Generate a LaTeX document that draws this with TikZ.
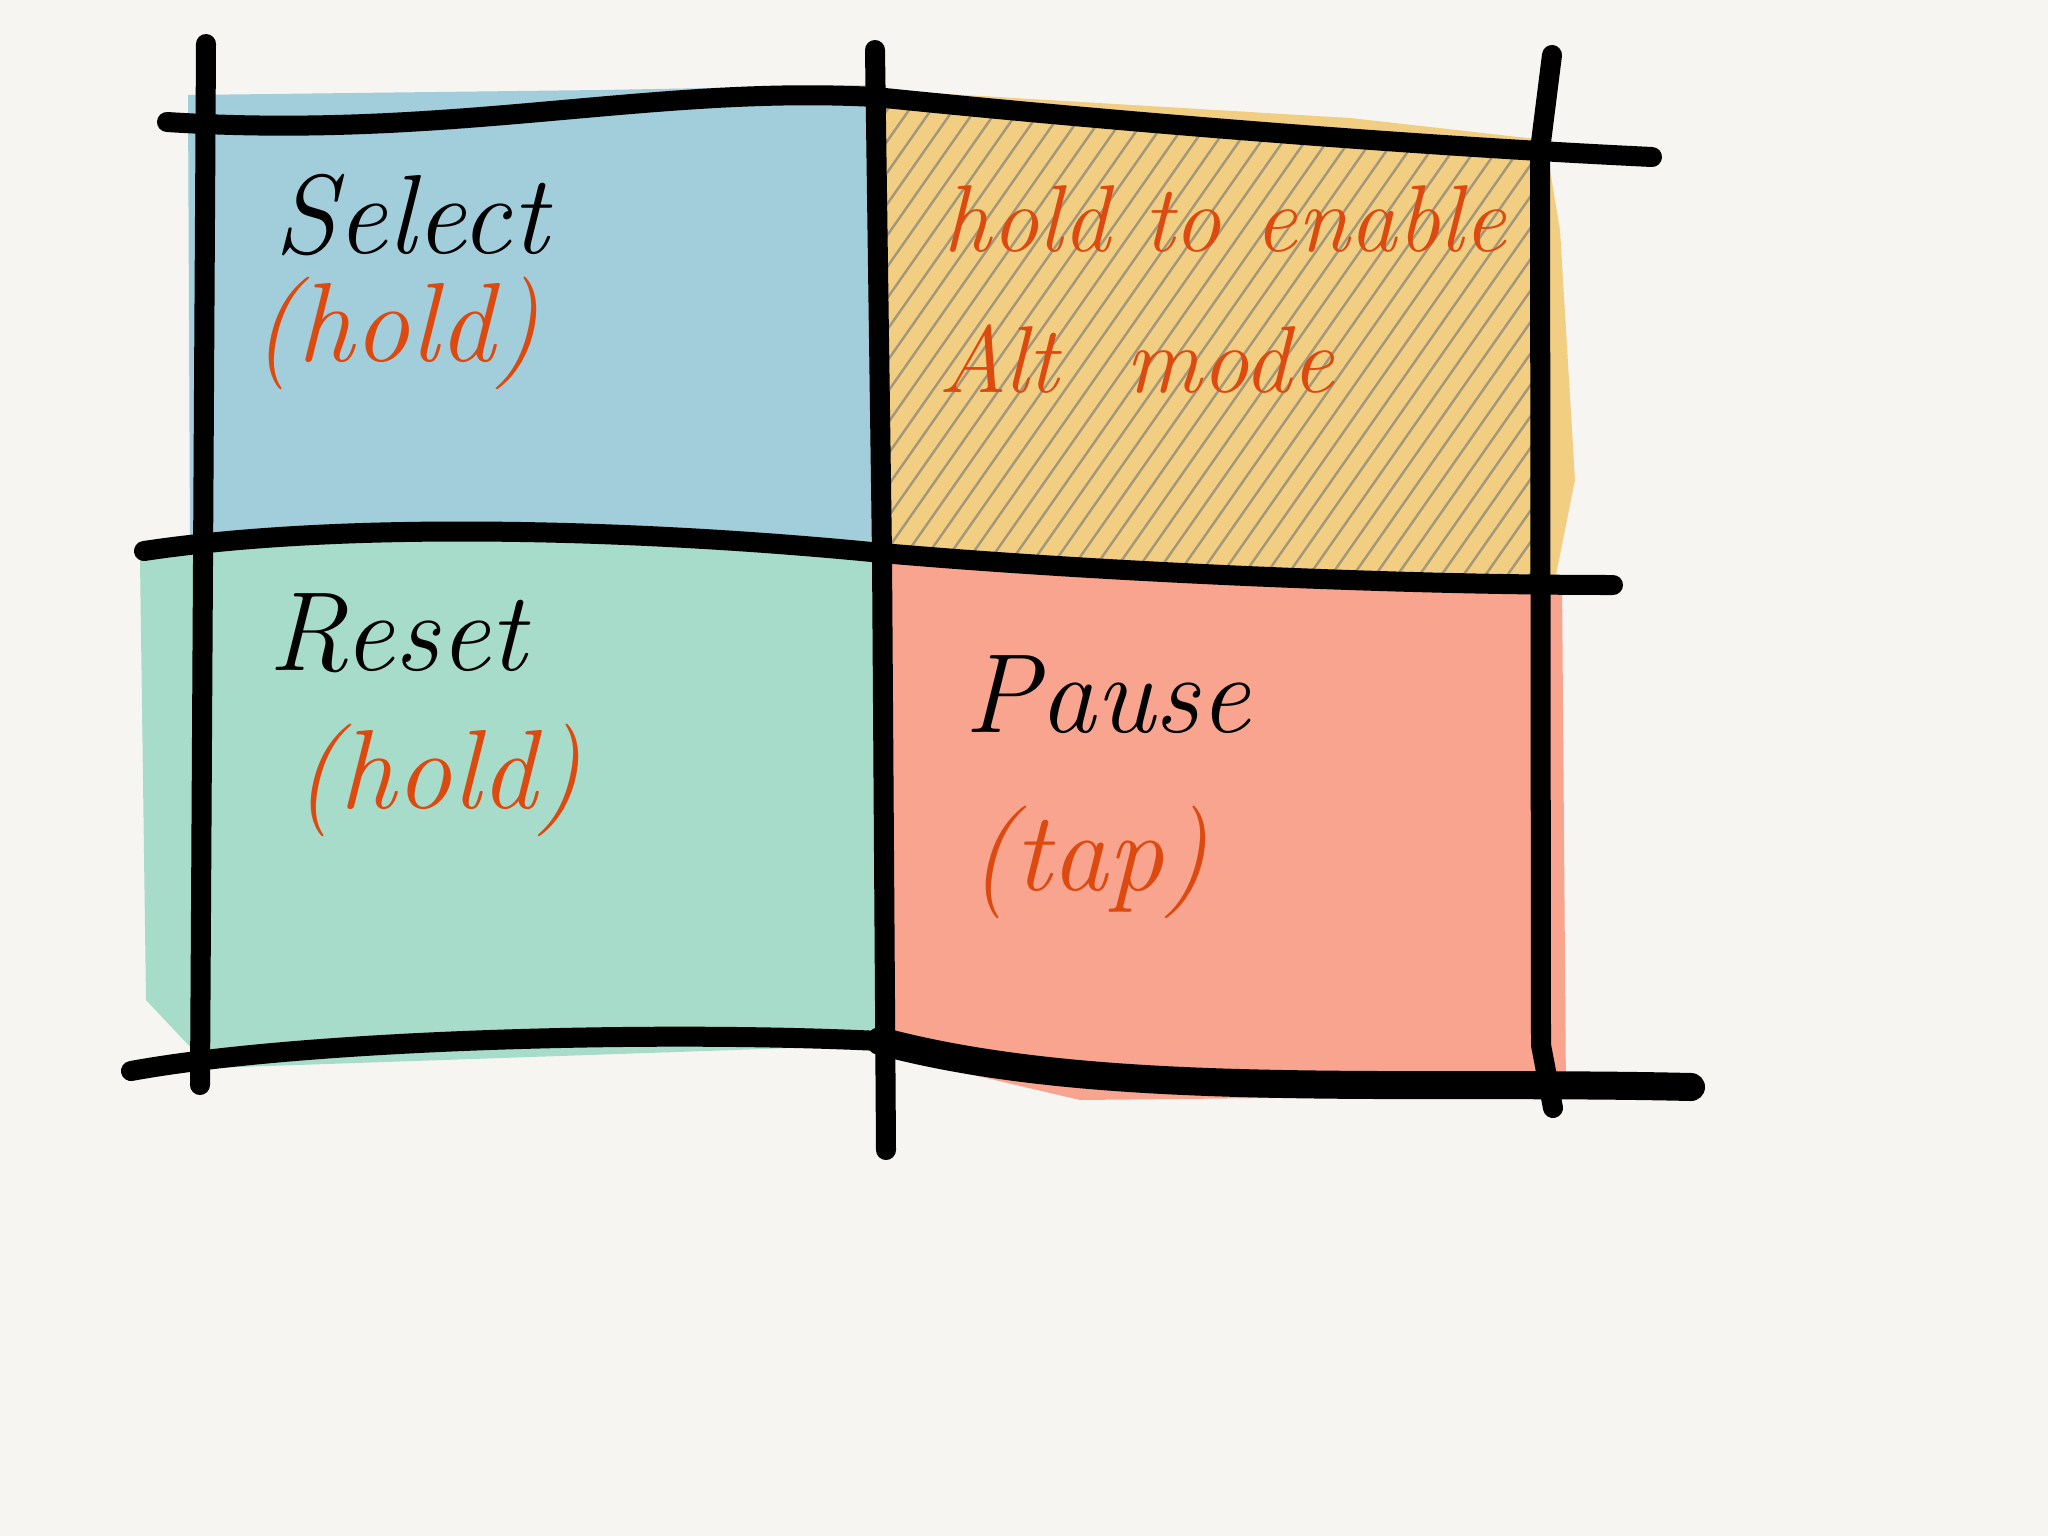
\documentclass[tikz,border=0pt]{standalone}
\usepackage{xcolor}
\usepackage{tikz}
\usetikzlibrary{positioning}

\definecolor{paper}{HTML}{F6F5F1}
\definecolor{wetblue}{HTML}{A2CDDA}
\definecolor{wetyellow}{HTML}{F2CE82}
\definecolor{wetgreen}{HTML}{A8DCCA}
\definecolor{wetsalmon}{HTML}{F9A48F}
\definecolor{inkorange}{HTML}{DC4A10}

\tikzset{
  gridline/.style={black, line width=0.2cm, line cap=round},
  heavyline/.style={black, line width=0.28cm, line cap=round},
  hatch/.style={black!55, line width=0.7pt, opacity=0.6},
  title/.style={anchor=west, inner sep=0pt, font=\fontsize{32}{36}\selectfont\itshape},
  note/.style={anchor=west, inner sep=0pt, text=inkorange, font=\fontsize{32}{36}\selectfont\itshape},
  smallnote/.style={anchor=west, inner sep=0pt, text=inkorange, font=\fontsize{27}{30}\selectfont\itshape}
}

\begin{document}
\begin{tikzpicture}[x=0.01cm, y=-0.01cm]
    \fill [paper] (0,0) rectangle (2048,1536);
    \useasboundingbox (0,0) rectangle (2048,1536);

    \coordinate (L0) at (206, 44);
    \coordinate (L3) at (200, 1085);
    \coordinate (M0) at (875, 50);
    \coordinate (M2) at (882, 555);
    \coordinate (M3) at (886, 1150);
    \coordinate (R0) at (1552, 55);
    \coordinate (R1) at (1540, 150);
    \coordinate (R2) at (1541, 1045);
    \coordinate (R3) at (1553, 1108);

    \coordinate (T0) at (167, 122);
    \coordinate (T1) at (875, 97);
    \coordinate (T2) at (1652, 157);
    \coordinate (H0) at (144, 551);
    \coordinate (H1) at (882, 553);
    \coordinate (H2) at (1613, 585);
    \coordinate (B0) at (131, 1071);
    \coordinate (B1) at (880, 1041);
    \coordinate (B2) at (1691, 1087);

    % watercolour cells
    \fill [wetblue] (188,95) -- (600,90) -- (878,85) -- (880,545) -- (560,540) -- (190,545) -- cycle;
    \fill [wetyellow] (880,90) -- (1350,118) -- (1545,140) -- (1560,230) -- (1575,480) -- (1556,575) -- (880,560) -- cycle;
    \fill [wetgreen] (880,540) -- (880,1045) -- (210,1068) -- (146,1000) -- (140,560) -- (200,535) -- cycle;
    \fill [wetsalmon] (888,555) -- (1562,580) -- (1566,1095) -- (1080,1100) -- (888,1055) -- cycle;

    % pencil hatching
    \begin{scope}
      \clip (880,98) -- (1541,146) -- (1545,580) -- (882,553) -- cycle;
      \foreach \x in {500,522,...,1560}
        \draw [hatch] (\x,600) -- ++(364,-520);
    \end{scope}

    % grid
    \draw [gridline] (L0) to (L3);
    \draw [gridline] (M0) to (M2) to (M3);
    \draw [gridline] (R0) to (R1) to (R2) to (R3);
    \draw [gridline] (T0) .. controls (450,140) and (650,85) .. (T1);
    \draw [gridline] (T1) .. controls (1100,120) and (1400,145) .. (T2);
    \draw [gridline] (H0) .. controls (350,520) and (650,530) .. (H1);
    \draw [gridline] (H1) .. controls (1100,572) and (1400,585) .. (H2);
    \draw [gridline] (B0) .. controls (300,1040) and (650,1030) .. (B1);
    \draw [heavyline] (B1) .. controls (1100,1100) and (1400,1080) .. (B2);

    % labels
    \node [title] (select) at (274, 215) {Select};
    \node [note] (selecthold) at (252, 333) {(hold)};
    \node [smallnote] (altnote) at (943, 219) {hold to enable};
    \node [smallnote] (altmode) at (938, 359) {Alt\ \ mode};
    \node [title] (reset) at (268, 633) {Reset};
    \node [note] (resethold) at (294, 780) {(hold)};
    \node [title] (pause) at (964, 695) {Pause};
    \node [note] (pausetap) at (969, 862) {(tap)};
\end{tikzpicture}
\end{document}
